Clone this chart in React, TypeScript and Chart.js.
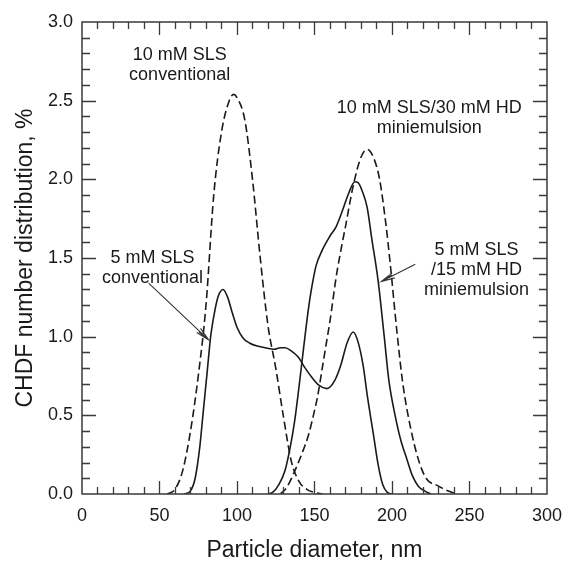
import { useEffect, useRef } from 'react';
import { Chart, registerables } from 'chart.js';

Chart.register(...registerables);

// ---- axes ----
const X_MIN = 0;
const X_MAX = 300;
const X_MAJOR = 50;
const X_MINOR = 10;
const Y_MIN = 0;
const Y_MAX = 3;
const Y_MAJOR = 0.5;
const Y_MINOR = 0.1;
const X_TITLE = 'Particle diameter, nm';
const Y_TITLE = 'CHDF number distribution, %';

// ---- series: 10 mM SLS conventional (dashed) ----
const conv10X = [55, 60, 65, 70, 75, 80, 85, 90, 95, 98, 100, 105, 110, 115, 120, 125, 130, 135, 140, 145, 150, 155];
const conv10Y = [0, 0.03, 0.15, 0.4, 0.75, 1.2, 1.9, 2.3, 2.5, 2.54, 2.52, 2.38, 2.0, 1.5, 1.07, 0.8, 0.49, 0.21, 0.08, 0.03, 0.01, 0];

// ---- series: 10 mM SLS / 30 mM HD miniemulsion (dashed) ----
const mini10X = [128, 132, 137, 142, 146, 150, 152, 155, 158, 160, 164, 168, 170, 175, 180, 184, 188, 192, 196, 199, 203, 207, 212, 217, 222, 230, 236, 242];
const mini10Y = [0, 0.04, 0.14, 0.26, 0.37, 0.53, 0.62, 0.8, 0.98, 1.1, 1.38, 1.6, 1.7, 1.96, 2.14, 2.19, 2.14, 2.0, 1.72, 1.45, 1.05, 0.7, 0.42, 0.22, 0.1, 0.05, 0.02, 0];

// ---- series: 5 mM SLS conventional (solid) ----
const conv5X = [66, 70, 73, 76, 78, 81, 83, 86, 88, 91, 94, 97, 100, 104, 108, 113, 118, 124, 128, 131, 135, 139.5, 144, 148, 153, 158, 163, 167, 171, 175, 178, 181.5, 184, 188, 191, 194, 197, 200];
const conv5Y = [0, 0.02, 0.1, 0.3, 0.5, 0.8, 1.0, 1.18, 1.26, 1.3, 1.25, 1.15, 1.06, 0.99, 0.96, 0.94, 0.93, 0.92, 0.93, 0.93, 0.91, 0.87, 0.8, 0.745, 0.69, 0.67, 0.72, 0.82, 0.96, 1.03, 0.97, 0.81, 0.63, 0.38, 0.19, 0.06, 0.01, 0];

// ---- series: 5 mM SLS / 15 mM HD miniemulsion (solid) ----
const mini5X = [120, 123, 127, 131, 134, 137, 140, 143, 146, 148, 151, 155, 160, 164, 168, 172, 176, 178, 181, 184, 187, 191, 195, 198, 202, 206, 209, 213, 217, 221, 225];
const mini5Y = [0, 0.01, 0.06, 0.15, 0.28, 0.45, 0.68, 0.93, 1.17, 1.3, 1.45, 1.55, 1.64, 1.7, 1.8, 1.91, 1.985, 1.98, 1.92, 1.82, 1.62, 1.36, 1.0, 0.72, 0.5, 0.33, 0.24, 0.12, 0.05, 0.02, 0];

// ---- annotation texts (x centre, y baseline of first line, in data units) ----
const labelLines = [
  ['10 mM SLS', 'conventional'],
  ['10 mM SLS/30 mM HD', 'miniemulsion'],
  ['5 mM SLS', '/15 mM HD', 'miniemulsion'],
  ['5 mM SLS', 'conventional'],
];
const labelX = [63, 224, 254.5, 45.5];
const labelY = [2.758, 2.42, 1.519, 1.471];

// ---- arrows (from -> tip, data units) ----
const arrowFromX = [43, 215];
const arrowFromY = [1.34, 1.46];
const arrowToX = [81.7, 193.1];
const arrowToY = [0.98, 1.35];

const FONT = '"Liberation Sans", Arial, Helvetica, sans-serif';
const INK = '#1a1a1a';

function toPts(xs: number[], ys: number[]) {
  return xs.map((x, i) => ({ x, y: ys[i] }));
}

const decor = {
  id: 'decor',
  afterDraw(chart: any) {
    const { ctx, chartArea: a } = chart;
    const xs = chart.scales.x;
    const ys = chart.scales.y;
    ctx.save();
    // frame
    ctx.strokeStyle = '#3a3a3a';
    ctx.lineWidth = 1.5;
    ctx.strokeRect(a.left, a.top, a.right - a.left, a.bottom - a.top);
    // inward ticks
    ctx.lineWidth = 1.3;
    ctx.beginPath();
    const nx = Math.round((X_MAX - X_MIN) / X_MINOR);
    for (let i = 1; i < nx; i++) {
      const v = X_MIN + i * X_MINOR;
      const px = Math.round(xs.getPixelForValue(v)) + 0.5;
      const len = Math.abs(v % X_MAJOR) < 1e-9 ? 13 : 7;
      ctx.moveTo(px, a.bottom);
      ctx.lineTo(px, a.bottom - len);
      ctx.moveTo(px, a.top);
      ctx.lineTo(px, a.top + len);
    }
    const ny = Math.round((Y_MAX - Y_MIN) / Y_MINOR);
    const per = Math.round(Y_MAJOR / Y_MINOR);
    for (let i = 1; i < ny; i++) {
      const v = Y_MIN + i * Y_MINOR;
      const py = Math.round(ys.getPixelForValue(v)) + 0.5;
      const len = i % per === 0 ? 14 : 8;
      ctx.moveTo(a.left, py);
      ctx.lineTo(a.left + len, py);
      ctx.moveTo(a.right, py);
      ctx.lineTo(a.right - len, py);
    }
    ctx.stroke();

    // annotation labels
    ctx.fillStyle = INK;
    ctx.font = `18px ${FONT}`;
    ctx.textAlign = 'center';
    ctx.textBaseline = 'alphabetic';
    labelLines.forEach((lines, k) => {
      const cx = xs.getPixelForValue(labelX[k]);
      const by = ys.getPixelForValue(labelY[k]);
      lines.forEach((t, j) => ctx.fillText(t, cx, by + j * 20));
    });

    // arrows
    ctx.strokeStyle = '#333';
    ctx.lineWidth = 1.1;
    arrowFromX.forEach((_, k) => {
      const x0 = xs.getPixelForValue(arrowFromX[k]);
      const y0 = ys.getPixelForValue(arrowFromY[k]);
      const x1 = xs.getPixelForValue(arrowToX[k]);
      const y1 = ys.getPixelForValue(arrowToY[k]);
      const ang = Math.atan2(y1 - y0, x1 - x0);
      const L = 14;
      const w = 0.2;
      ctx.beginPath();
      ctx.moveTo(x0, y0);
      ctx.lineTo(x1, y1);
      ctx.moveTo(x1 - L * Math.cos(ang - w), y1 - L * Math.sin(ang - w));
      ctx.lineTo(x1, y1);
      ctx.lineTo(x1 - L * Math.cos(ang + w), y1 - L * Math.sin(ang + w));
      ctx.moveTo(x1 - L * 0.9 * Math.cos(ang - w * 0.4), y1 - L * 0.9 * Math.sin(ang - w * 0.4));
      ctx.lineTo(x1, y1);
      ctx.stroke();
    });

    // axis titles
    ctx.font = `23px ${FONT}`;
    ctx.textAlign = 'center';
    ctx.textBaseline = 'alphabetic';
    ctx.fillText(X_TITLE, (a.left + a.right) / 2, a.bottom + 63);
    ctx.save();
    ctx.translate(32, (a.top + a.bottom) / 2);
    ctx.rotate(-Math.PI / 2);
    ctx.fillText(Y_TITLE, 0, 0);
    ctx.restore();

    ctx.restore();
  },
};

export default function App() {
  const ref = useRef<HTMLCanvasElement | null>(null);
  useEffect(() => {
    if (!ref.current) return;
    const mk = (xs: number[], ys: number[], dashed: boolean) => ({
      data: toPts(xs, ys),
      borderColor: INK,
      borderWidth: 1.6,
      borderDash: dashed ? [8, 4] : [],
      pointRadius: 0,
      fill: false,
      tension: 0.4,
      cubicInterpolationMode: 'monotone' as const,
    });
    const chart = new Chart(ref.current, {
      type: 'line',
      data: {
        datasets: [
          mk(conv10X, conv10Y, true),
          mk(mini10X, mini10Y, true),
          mk(conv5X, conv5Y, false),
          mk(mini5X, mini5Y, false),
        ],
      },
      options: {
        animation: false,
        responsive: false,
        devicePixelRatio: 1,
        layout: { padding: { top: 22, right: 15, left: 0, bottom: 0 } },
        plugins: { legend: { display: false }, tooltip: { enabled: false } },
        scales: {
          x: {
            type: 'linear',
            min: X_MIN,
            max: X_MAX,
            grid: { display: false, drawTicks: false },
            border: { display: false },
            ticks: {
              stepSize: X_MAJOR,
              padding: 11,
              color: INK,
              font: { size: 18, family: FONT },
              maxRotation: 0,
            },
            afterFit: (s: any) => { s.height = 67; },
          },
          y: {
            type: 'linear',
            min: Y_MIN,
            max: Y_MAX,
            grid: { display: false, drawTicks: false },
            border: { display: false },
            ticks: {
              stepSize: Y_MAJOR,
              padding: 9,
              color: INK,
              font: { size: 18, family: FONT },
              callback: (v: any) => Number(v).toFixed(1),
            },
            afterFit: (s: any) => { s.width = 82; },
          },
        },
      },
      plugins: [decor],
    });
    return () => chart.destroy();
  }, []);
  return (
    <div style={{ position: 'fixed', left: 0, top: 0, width: 573, height: 561, background: '#fff' }}>
      <canvas ref={ref} width={573} height={561} style={{ display: 'block' }} />
    </div>
  );
}
